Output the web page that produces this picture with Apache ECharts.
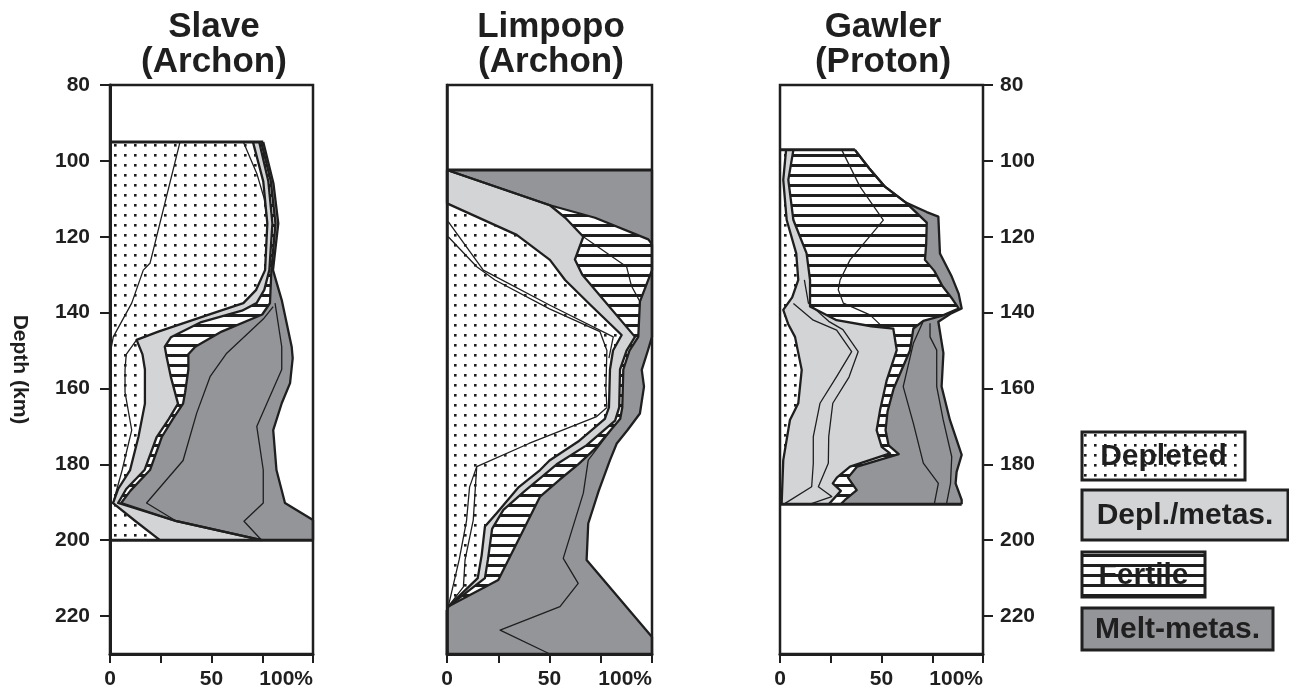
<!DOCTYPE html>
<html><head><meta charset="utf-8">
<script src="https://cdn.jsdelivr.net/npm/echarts@6/dist/echarts.min.js"></script>
<style>html,body{margin:0;padding:0;background:#fff}#c{width:1289px;height:697px}</style>
</head><body><div id="c"></div>
<script>
// ---------------- DATA (x = percent, y = depth km) ----------------
const panelTitles = ['Slave\n(Archon)', 'Limpopo\n(Archon)', 'Gawler\n(Proton)'];
const legendLabels = ['Depleted', 'Depl./metas.', 'Fertile', 'Melt-metas.'];
const xTickValues = [0, 25, 50, 75, 100];
const xLabelValues = [0, 50, 100];
const xLabelTexts = ['0', '50', '100%'];
const yTickValues = [80, 100, 120, 140, 160, 180, 200, 220];

// Slave (Archon)
const slaveLeft = [[0,95],[0,200]];
const slaveDepletedEnd = [[70.4,95],[75.5,105.4],[77.5,116.5],[76.4,128.8],[72,134],[65.7,137.5],[51.6,140],[23.8,145],[13.1,147.2],[16,151],[17.2,155],[17.2,164],[14,172.8],[9.9,181.5],[4,186.5],[1.5,190.2],[12.6,195],[24.6,200]];
const slaveDeplMetasEnd = [[73.5,95],[78,105.4],[80,116.5],[78.5,128.8],[76,134],[72.2,137.5],[65,139.5],[45,142.5],[30,146.5],[27,149],[27.9,151.7],[30,157],[33.5,164],[29,168],[23,172.8],[17,181.5],[8,186.5],[4,190.2],[32.8,195],[74.7,200]];
const slaveFertileEnd = [[74.5,95],[79.2,105.4],[81.5,116.5],[79.5,128.8],[78.8,137.5],[75,140.5],[55,145],[42,149],[38.6,151],[38.6,155],[37,161],[36,164],[31,168],[25.5,172.8],[19.7,181.5],[10,187],[5.5,190.2],[32.8,195],[74.7,200]];
const slaveMeltEnd = [[75.5,95],[80.5,105.9],[82.9,116.5],[80.3,128.8],[84.6,136.7],[89.5,149],[90,152],[88.7,158.6],[84.6,163.9],[80.4,171],[82,181.5],[86.2,190.2],[100,194.7],[100,200]];
const slaveThin1 = [[34.5,95],[19.7,127],[16.4,128.8],[10.7,137.5],[1.6,146.4],[0,151]];
const slaveThin2 = [[13.1,147.2],[8,151],[7.4,155],[7.4,161],[10.7,171],[6,181.5],[1.5,190.2]];
const slaveThin3 = [[65.7,95],[72.3,103.3],[76,110],[77.5,116.5]];
const slaveThin4 = [[80.4,138.4],[75.5,141.7],[57.5,150.7],[49.3,156.9],[42.7,166.5],[36,179],[18,190.2],[32.8,195]];
const slaveThin5 = [[81.3,137.5],[84.6,149],[84.6,155],[77.2,164],[72.3,170],[75.5,181.5],[75.5,190.2],[66,195],[74.7,200]];
const slaveTop = [[0,95],[75.5,95]];
const slaveBottom = [[0,200],[100,200]];

// Limpopo (Archon)
const limpLeft = [[0,102.4],[0,230]];
const limpDepletedEnd = [[0,102.4],[0,111.2],[34,119.5],[50.2,126.1],[57.6,131.4],[70,138],[85.2,145.9],[81,150],[79.5,155],[79,165],[77,168],[64,174],[50,179],[45.4,181.5],[35,186],[24.2,192.9],[18.5,196.4],[16.9,204],[15,210],[0.6,217.5],[0,218.5],[0,230]];
const limpDeplMetasEnd = [[0,102.4],[50.2,111.7],[57.7,115],[66.5,120],[62.4,126],[66,130],[91.7,146.4],[87.6,150],[84.4,155],[84,165],[82,168.5],[68,175],[53.5,180],[48,182.5],[38,187],[27.5,192],[22,197],[20,205],[18.5,210],[0.6,217.5],[0,218.5],[0,230]];
const limpFertileEnd = [[0,102.4],[50.2,111.7],[72.2,115],[98.2,120.7],[100,122],[100,128.8],[94.1,137.1],[93.3,146.4],[89,150],[86,155],[85.5,165],[84.5,168],[72,176],[64,180],[55,184],[45.4,188.5],[35.6,199.1],[25,210.5],[0.6,217.5],[0,218.5],[0,230]];
const limpMeltEnd = [[100,102.4],[100,146.4],[98,150],[95,155.1],[96.1,159.5],[94.1,166.6],[88,171],[82.8,174.5],[79.5,178.9],[74,187],[68.9,195.6],[68.1,205.2],[100,225.5],[100,230]];
const limpThin1 = [[0.6,120],[14.5,127.9],[23.4,131.4],[50,139],[74.6,145],[78,150],[77.5,160],[78,165]];
const limpThin2 = [[0.6,116],[17.7,128.8],[50,138],[81.1,146.4],[79,152]];
const limpThin3 = [[78,165],[73,167.4],[40,174.5],[14.5,180.6],[12.8,194.7],[8.8,205.2],[8,212.3],[0.6,217.5]];
const limpThin4 = [[14.5,180.6],[11,186],[9.5,195],[6,205],[3,212],[0.6,217.5]];
const limpThin5 = [[66.5,120],[87.6,127.9],[90,133],[94.1,137.1]];
const limpThin6 = [[80,171],[68.9,178.9],[66.5,187.6],[56.7,204.8],[64,211.4],[55.1,217.5],[25.9,223.7],[50.2,230]];
const limpTop = [[0,102.4],[100,102.4]];

// Gawler (Proton)
const gawLeft = [[0,97.1],[0,190.5]];
const gawDepletedEnd = [[3,97.1],[1.6,105],[3.3,115.6],[8,124.4],[9,131.4],[6,136],[1.6,139.3],[4,143],[7.4,146.4],[10.7,155.1],[9,163.9],[4.9,168.3],[1.6,178.9],[0.8,190.5]];
const gawDeplMetasEnd = [[6.6,97.1],[4.1,105],[6.6,115.6],[13.1,124.4],[14.8,131.4],[14.8,138.4],[27.9,142],[45,143.6],[55.8,144.2],[57.5,149.9],[52.6,157.8],[49.3,165.7],[47.6,171],[50.1,175.4],[54.2,177.1],[34.5,180.6],[28,183.5],[26,185],[30,187],[24,190.5]];
const gawFertileEnd = [[36.9,97.1],[44,102],[51.7,106.8],[62,111],[72.3,116.3],[72,122],[71.4,126.1],[76,129],[80,133],[85,136.5],[88,138.9],[80,140.8],[70.6,142.2],[65.7,144.2],[64,150],[60,155],[56,160],[53,166],[52,171],[53.5,175],[58.5,177.3],[38,180.6],[33.5,183.5],[37.8,186.8],[32,189.4],[30,190.5]];
const gawMeltEnd = [[36.9,97.1],[44,102],[51.7,106.8],[62,111],[72.3,113.5],[78,114.7],[78.8,124.4],[84.6,130.5],[88,135],[89.5,138.9],[84,140.3],[78,142.4],[80.5,150.7],[79.6,159.5],[83.7,168.3],[89.5,177.5],[87,182],[86.5,185],[89.5,189.4],[89.5,190.5]];
const gawThin1 = [[30.4,97.1],[39.4,106.8],[50.9,115.6],[34.5,126.1],[29.6,131.4],[28.7,134],[31.2,137.5],[44.3,140.6],[50,143.5]];
const gawThin2 = [[6.6,137.6],[16.4,142],[27.9,144.6],[35.3,150.3],[27.9,156.9],[19.7,163.9],[16.4,172.7],[16.4,179.8],[15.6,185.9],[2.5,190.3]];
const gawThin3 = [[12,131.4],[14,137.5],[24,142.3],[31,144.5],[38.5,150.3],[34,157],[26,163.9],[24,172.7],[23.8,179.7],[18.9,185.9],[25.5,188.5],[14.8,190.5]];
const gawThin4 = [[70.6,142.2],[65.7,148.1],[60.7,159.5],[65.7,169.2],[70.6,179.7],[78,185],[76,190.5]];
const gawThin5 = [[73.9,142.8],[73.9,146.4],[77.2,149.9],[77.2,159.5],[80.4,168.3],[84.6,178],[84,185],[82,190.5]];
const gawTop = [[0,97.1],[36.9,97.1]];
const gawBottom = [[0,190.5],[89.5,190.5]];

// ---------------- STYLE ----------------
const FONT = '"Liberation Sans", Arial, Helvetica, sans-serif';
const INK = '#1f1f1f';
const LIGHT = '#d3d4d6';
const DARK = '#949599';

function makeDots() {
  const c = document.createElement('canvas'); c.width = 10; c.height = 10;
  const g = c.getContext('2d'); g.fillStyle = '#fff'; g.fillRect(0,0,10,10);
  g.fillStyle = INK; g.fillRect(4,4,2.6,2.6); return c;
}
function makeHatch() {
  const c = document.createElement('canvas'); c.width = 10; c.height = 10;
  const g = c.getContext('2d'); g.fillStyle = '#fff'; g.fillRect(0,0,10,10);
  g.fillStyle = INK; g.fillRect(0,4,10,3); return c;
}
const DOTS = {image: makeDots(), repeat: 'repeat'};
const HATCH = {image: makeHatch(), repeat: 'repeat'};

function poly(a, b) { return a.concat(b.slice().reverse()); }
function region(gi, pts, fill) {
  return {type:'custom', xAxisIndex:gi, yAxisIndex:gi, data:[[0,0]], silent:true, z:1, animation:false,
    renderItem: (params, api) => ({type:'polygon', shape:{points: pts.map(p => api.coord(p))}, style:{fill: fill}})};
}
function line(gi, pts, w) {
  return {type:'line', xAxisIndex:gi, yAxisIndex:gi, data:pts, symbol:'none', showSymbol:false, silent:true, z:3,
    animation:false, lineStyle:{color:INK, width:w, join:'round'}};
}

const panels = [
  {left: slaveLeft, b: [slaveDepletedEnd, slaveDeplMetasEnd, slaveFertileEnd, slaveMeltEnd],
   thin: [slaveThin1, slaveThin2, slaveThin3, slaveThin4, slaveThin5], caps: [slaveTop, slaveBottom]},
  {left: limpLeft, b: [limpDepletedEnd, limpDeplMetasEnd, limpFertileEnd, limpMeltEnd],
   thin: [limpThin1, limpThin2, limpThin3, limpThin4, limpThin5, limpThin6], caps: [limpTop]},
  {left: gawLeft, b: [gawDepletedEnd, gawDeplMetasEnd, gawFertileEnd, gawMeltEnd],
   thin: [gawThin1, gawThin2, gawThin3, gawThin4, gawThin5], caps: [gawTop, gawBottom]}
];
const fills = [DOTS, LIGHT, HATCH, DARK];

const series = [];
panels.forEach((p, gi) => {
  const bounds = [p.left].concat(p.b);
  for (let k = 0; k < 4; k++) series.push(region(gi, poly(bounds[k], bounds[k+1]), fills[k]));
  p.thin.forEach(t => series.push(line(gi, t, 1.3)));
  p.b.forEach(t => series.push(line(gi, t, 2.3)));
  p.caps.forEach(t => series.push(line(gi, t, 3)));
});

const gridsPos = [{left:110, width:203}, {left:447, width:205}, {left:780, width:203}];
const grid = gridsPos.map(g => ({left:g.left, width:g.width, top:85, height:569, show:true,
  borderColor:INK, borderWidth:2.5, backgroundColor:'transparent', z:10}));

const labelFont = {fontSize:21, fontWeight:'bold', fontFamily:FONT, color:INK};
const xAxis = gridsPos.map((g, gi) => ({type:'value', gridIndex:gi, min:0, max:100, interval:25, z:10,
  axisLine:{show:true, onZero:false, lineStyle:{color:INK, width:3}},
  axisTick:{show:true, length:9, customValues:xTickValues, lineStyle:{color:INK, width:2}},
  axisLabel:Object.assign({show:true, customValues:xLabelValues, margin:15, alignMaxLabel:'right',
    formatter: v => { const i = xLabelValues.indexOf(v); return i < 0 ? '' : xLabelTexts[i]; }}, labelFont),
  splitLine:{show:false}}));

const yBase = {type:'value', min:80, max:230, interval:20, inverse:true, z:10, splitLine:{show:false}};
const yAxis = [
  Object.assign({}, yBase, {gridIndex:0, position:'left', name:'Depth (km)', nameLocation:'middle', nameRotate:-90, nameGap:80,
    nameTextStyle:{fontSize:21, fontWeight:'bold', fontFamily:FONT, color:INK},
    axisLine:{show:true, onZero:false, lineStyle:{color:INK, width:3}},
    axisTick:{show:true, length:10, customValues:yTickValues, lineStyle:{color:INK, width:2}},
    axisLabel:Object.assign({show:true, customValues:yTickValues, margin:20,
      formatter: v => (yTickValues.indexOf(v) < 0 ? '' : String(v))}, labelFont)}),
  Object.assign({}, yBase, {gridIndex:1, position:'left',
    axisLine:{show:true, onZero:false, lineStyle:{color:INK, width:2.5}}, axisTick:{show:false}, axisLabel:{show:false}}),
  Object.assign({}, yBase, {gridIndex:2, position:'right',
    axisLine:{show:true, onZero:false, lineStyle:{color:INK, width:2}},
    axisTick:{show:true, length:10, customValues:yTickValues, lineStyle:{color:INK, width:2}},
    axisLabel:Object.assign({show:true, customValues:yTickValues, margin:17,
      formatter: v => (yTickValues.indexOf(v) < 0 ? '' : String(v))}, labelFont)})
];

const titleCenters = [214, 551, 883];
const title = panelTitles.map((t, i) => ({text:t, left:titleCenters[i], top:10, textAlign:'center', padding:0,
  textStyle:{fontSize:35, fontWeight:'bold', lineHeight:35, fontFamily:FONT, color:INK}}));

const legendGeom = [[1082,432,163,48], [1082,490,206,50], [1082,552,123,45], [1082,608,191,42]];
const graphic = [];
legendGeom.forEach((r, i) => {
  graphic.push({type:'rect', silent:true, z:20, shape:{x:r[0], y:r[1], width:r[2], height:r[3]},
    style:{fill:fills[i], stroke:INK, lineWidth:3}});
  graphic.push({type:'text', silent:true, z:21, x:r[0] + r[2]/2, y:r[1] + r[3]/2 + 1,
    style:{text:legendLabels[i], font:'bold 30px ' + FONT, fill:INK, align:'center', verticalAlign:'middle'}});
});

const chart = echarts.init(document.getElementById('c'), null, {renderer:'canvas'});
chart.setOption({animation:false, backgroundColor:'#fff', title, grid, xAxis, yAxis, series, graphic});
</script></body></html>
